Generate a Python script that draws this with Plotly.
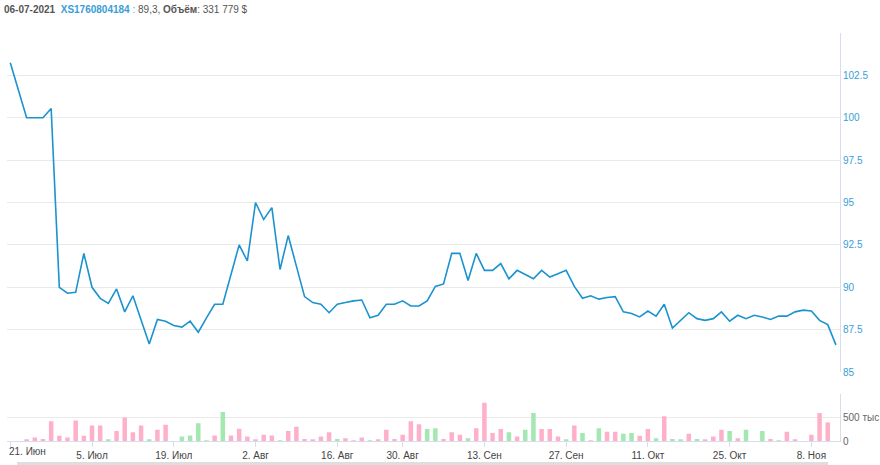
import plotly.graph_objects as go

# ---- data ----
price = [103.25, 101.7, 100.0, 100.0, 100.0, 100.55, 90.0, 89.65, 89.7, 92.0,
         90.0, 89.35, 89.05, 89.9, 88.55, 89.5, 88.1, 86.65, 88.1, 88.0,
         87.75, 87.65, 88.0, 87.35, 88.2, 89.0, 89.0, 90.75, 92.5, 91.55,
         95.0, 94.0, 94.7, 91.05, 93.05, 91.25, 89.45, 89.1, 89.0, 88.5,
         89.0, 89.1, 89.2, 89.25, 88.2, 88.35, 89.0, 89.0, 89.2, 88.9,
         88.9, 89.2, 90.05, 90.2, 92.0, 92.0, 90.4, 92.0, 91.0, 91.0,
         91.4, 90.5, 91.0, 90.75, 90.5, 91.0, 90.6, 90.8, 91.0, 90.05,
         89.35, 89.5, 89.3, 89.4, 89.45, 88.55, 88.45, 88.25, 88.6, 88.3,
         89.0, 87.6, 88.05, 88.5, 88.15, 88.05, 88.15, 88.55, 88.0, 88.35,
         88.15, 88.35, 88.25, 88.1, 88.3, 88.3, 88.55, 88.65, 88.6, 88.05,
         87.8, 86.6]

volume_k = [0, 0, 30, 75, 45, 425, 110, 75, 440, 110,
            330, 330, 30, 215, 500, 185, 330, 30, 240, 345,
            0, 95, 120, 380, 15, 120, 620, 120, 260, 95,
            30, 135, 120, 15, 215, 305, 45, 30, 95, 185,
            45, 60, 15, 75, 15, 30, 240, 45, 135, 425,
            360, 255, 270, 45, 185, 135, 60, 270, 820, 170,
            255, 185, 95, 240, 600, 255, 255, 95, 30, 330,
            170, 15, 270, 200, 200, 155, 170, 110, 255, 60,
            530, 45, 30, 155, 45, 30, 95, 240, 215, 60,
            240, 0, 215, 45, 15, 200, 30, 0, 135, 600,
            395, 0]

# 1 = green bar, 0 = pink bar
volume_up = [0, 0, 0, 0, 0, 0, 0, 0, 0, 0,
             0, 0, 1, 0, 0, 0, 0, 1, 0, 0,
             0, 1, 1, 1, 1, 0, 1, 0, 0, 0,
             0, 0, 0, 1, 0, 0, 0, 0, 0, 0,
             1, 0, 0, 0, 1, 0, 0, 0, 0, 0,
             0, 1, 1, 0, 0, 0, 1, 0, 0, 0,
             0, 1, 0, 1, 1, 0, 0, 0, 1, 0,
             1, 0, 1, 0, 0, 1, 1, 0, 0, 1,
             0, 1, 1, 0, 1, 0, 0, 0, 1, 0,
             1, 0, 1, 0, 1, 0, 0, 0, 0, 0,
             0, 0]

tick_labels = ["21. Июн", "5. Июл", "19. Июл", "2. Авг", "16. Авг", "30. Авг",
               "13. Сен", "27. Сен", "11. Окт", "25. Окт", "8. Ноя"]
tick_index = [0, 10, 20, 30, 40, 48, 58, 68, 78, 88, 98]

price_ticks = [85, 87.5, 90, 92.5, 95, 97.5, 100, 102.5, 105]
price_tick_text = ["85", "87.5", "90", "92.5", "95", "97.5", "100", "102.5", ""]
vol_ticks = [0, 500000, 1000000]
vol_tick_text = ["0", "500 тыс", ""]

# ---- styles ----
FONT = "Liberation Sans, Arial, sans-serif"
LINE_BLUE = "#1b93cf"
LABEL_BLUE = "#3a9ed6"
PINK = "#ffb0c9"
GREEN = "#a2e8b0"
GRID = "#e9e9e9"
AXLINE = "#d6ddee"

idx = list(range(len(price)))
volume = [v * 1000 for v in volume_k]
bar_colors = [GREEN if u else PINK for u in volume_up]

fig = go.Figure()
fig.add_trace(go.Scatter(x=idx, y=price, mode="lines",
                         line=dict(color=LINE_BLUE, width=1.6),
                         yaxis="y", xaxis="x", showlegend=False))
fig.add_trace(go.Bar(x=idx, y=volume, marker=dict(color=bar_colors, line=dict(width=0)),
                     yaxis="y2", xaxis="x", showlegend=False))

fig.update_layout(
    width=880, height=465,
    margin=dict(l=7, r=40, t=33, b=24, autoexpand=False),
    paper_bgcolor="white", plot_bgcolor="white",
    font=dict(family=FONT, size=9, color="#444"),
    bargap=0.45,
    xaxis=dict(type="linear", range=[-0.4, 101.5], anchor="y2", automargin=False,
               tickvals=tick_index, ticktext=[""] + tick_labels[1:],
               ticks="outside", ticklen=5, tickcolor=AXLINE,
               showline=True, linecolor=AXLINE, linewidth=1,
               showgrid=False, zeroline=False,
               tickfont=dict(size=10, color="#444")),
    yaxis=dict(domain=[0.169, 1], range=[85, 105], side="right", anchor="x",
               automargin=False,
               tickvals=price_ticks, ticktext=price_tick_text,
               showgrid=True, gridcolor=GRID, zeroline=False,
               showline=True, linecolor=AXLINE, ticks="",
               tickfont=dict(size=10, color=LABEL_BLUE)),
    yaxis2=dict(domain=[0, 0.1146], range=[0, 1000000], side="right", anchor="x",
                automargin=False,
                tickvals=vol_ticks, ticktext=vol_tick_text,
                showgrid=True, gridcolor=GRID, zeroline=False,
                showline=True, linecolor=AXLINE, ticks="",
                tickfont=dict(size=10, color="#666")),
)

# first x label is shifted right so it fits inside the chart
fig.add_annotation(x=tick_index[0], xref="x", y=-0.008, yref="paper",
                   text=tick_labels[0], showarrow=False, xanchor="left", yanchor="top",
                   xshift=-3, font=dict(size=10, color="#444", family=FONT))

# header line
header = ("<b>06-07-2021</b>\u00a0\u00a0"
          f"<span style='color:{LABEL_BLUE}'><b>XS1760804184</b> :</span>"
          " 89,3, <b>Объём</b>: 331 779 $")
fig.add_annotation(x=0, xref="paper", y=1.0585, yref="paper", xshift=-5,
                   text=header, showarrow=False, xanchor="left", yanchor="middle",
                   font=dict(size=10, color="#555", family=FONT))

# scrollbar strip at the bottom
fig.add_shape(type="rect", xref="paper", yref="paper", x0=0.012, x1=0.9856,
              y0=-0.0515, y1=-0.07, fillcolor="#dedede", line=dict(width=0), layer="below")

fig.write_html("out.html", config={"displayModeBar": False},
               post_script="document.body.style.margin='0';")
